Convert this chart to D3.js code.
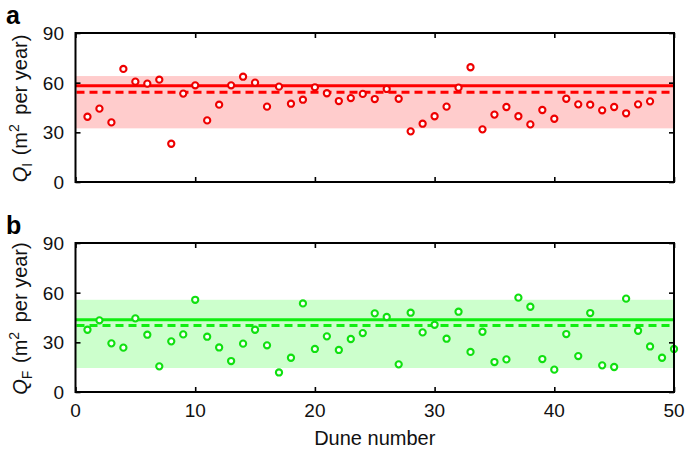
<!DOCTYPE html>
<html>
<head>
<meta charset="utf-8">
<script src="https://cdn.jsdelivr.net/npm/d3@7/dist/d3.min.js"></script>
<style>
  html, body { margin: 0; padding: 0; background: #fff; }
  svg { display: block; font-family: "Liberation Sans", Arial, Helvetica, sans-serif; }
</style>
</head>
<body>
<svg id="chart" width="685" height="450"></svg>
<script>
// ---- Data ----
const duneI = d3.range(1, 49);            // dunes 1..48 (panel a)
const valuesI = [39.4,44.3,36.0,68.3,60.6,59.4,61.8,23.1,53.4,58.4,
                 37.2,46.7,58.4,63.6,60.0,45.5,57.6,47.3,49.7,57.2,
                 53.6,48.9,50.7,53.2,50.1,56.2,50.3,30.6,35.2,39.7,
                 45.5,57.0,69.3,31.8,40.7,45.3,39.7,34.8,43.5,38.2,
                 50.3,46.9,46.7,43.3,45.3,41.5,46.9,48.7];
const meanI = 58.2, medianI = 54.2, bandI = [32.4, 64.0];

const duneF = d3.range(1, 51);            // dunes 1..50 (panel b)
const valuesF = [37.6,43.3,29.4,26.8,44.5,34.6,15.5,30.6,34.8,55.7,
                 33.4,26.9,18.7,29.2,37.6,28.2,11.8,20.7,53.5,26.0,
                 33.6,25.4,32.0,35.6,47.5,45.3,16.7,47.9,36.0,40.6,
                 32.2,48.5,24.2,36.4,18.1,19.7,57.0,51.5,19.9,13.5,
                 35.0,21.7,47.7,16.1,15.1,56.4,37.0,27.5,20.7,26.0];
const meanF = 43.7, medianF = 40.2, bandF = [14.5, 55.7];

const xTicks = [0, 10, 20, 30, 40, 50];
const yTicks = [0, 30, 60, 90];

// ---- Layout ----
const svg = d3.select("#chart");
const x = d3.scaleLinear().domain([0, 50]).range([75.5, 674]);

const panels = [
  { letter: "a", sub: "I", top: 33, bottom: 182, dune: duneI, vals: valuesI,
    mean: meanI, median: medianI, band: bandI,
    stroke: "#ee0000", fill: "#ffcccc", line: "#ff0000", showX: false },
  { letter: "b", sub: "F", top: 243, bottom: 392, dune: duneF, vals: valuesF,
    mean: meanF, median: medianF, band: bandF,
    stroke: "#10e010", fill: "#ccffcc", line: "#11ee11", showX: true }
];

panels.forEach(p => {
  const y = d3.scaleLinear().domain([0, 90]).range([p.bottom, p.top]);
  const g = svg.append("g");
  const x0 = x.range()[0], x1 = x.range()[1];

  // band
  g.append("rect")
    .attr("x", x0).attr("width", x1 - x0)
    .attr("y", y(p.band[1])).attr("height", y(p.band[0]) - y(p.band[1]))
    .attr("fill", p.fill);

  // mean line (solid)
  g.append("line")
    .attr("x1", x0).attr("x2", x1)
    .attr("y1", y(p.mean)).attr("y2", y(p.mean))
    .attr("stroke", p.line).attr("stroke-width", 3);

  // median line (dashed)
  g.append("line")
    .attr("x1", x0 + 1).attr("x2", x1)
    .attr("y1", y(p.median)).attr("y2", y(p.median))
    .attr("stroke", p.line).attr("stroke-width", 3)
    .attr("stroke-dasharray", "8,5");

  // points
  g.selectAll("circle.pt").data(p.dune.map((d, i) => [d, p.vals[i]]))
    .enter().append("circle")
    .attr("class", "pt")
    .attr("cx", d => x(d[0])).attr("cy", d => y(d[1]))
    .attr("r", 3.1)
    .attr("fill", "#fff")
    .attr("stroke", p.stroke).attr("stroke-width", 2.1);

  // axes (ticks inward)
  const tl = 5;
  const axL = g.append("g").attr("transform", `translate(${x0},0)`)
    .call(d3.axisRight(y).tickValues(yTicks).tickSize(tl).tickFormat(""));
  const axR = g.append("g").attr("transform", `translate(${x1},0)`)
    .call(d3.axisLeft(y).tickValues(yTicks).tickSize(tl).tickFormat(""));
  const axB = g.append("g").attr("transform", `translate(0,${p.bottom})`)
    .call(d3.axisTop(x).tickValues(xTicks).tickSize(tl).tickFormat(""));
  const axT = g.append("g").attr("transform", `translate(0,${p.top})`)
    .call(d3.axisBottom(x).tickValues(xTicks).tickSize(tl).tickFormat(""));
  [axL, axR, axB, axT].forEach(a => {
    a.select(".domain").remove();
    a.selectAll(".tick line").attr("stroke", "#000").attr("stroke-width", 1.6);
  });

  // frame
  g.append("rect")
    .attr("x", x0).attr("y", p.top)
    .attr("width", x1 - x0).attr("height", p.bottom - p.top)
    .attr("fill", "none").attr("stroke", "#000").attr("stroke-width", 2);

  // y tick labels
  g.selectAll("text.yt").data(yTicks).enter().append("text")
    .attr("class", "yt")
    .attr("x", 64).attr("y", d => y(d))
    .attr("dy", "0.36em")
    .attr("text-anchor", "end")
    .attr("font-size", 19).attr("fill", "#111")
    .text(d => d);

  // x tick labels
  if (p.showX) {
    g.selectAll("text.xt").data(xTicks).enter().append("text")
      .attr("class", "xt")
      .attr("x", d => x(d)).attr("y", p.bottom + 25)
      .attr("text-anchor", "middle")
      .attr("font-size", 19).attr("fill", "#111")
      .text(d => d);
    g.append("text")
      .attr("x", (x0 + x1) / 2).attr("y", p.bottom + 53)
      .attr("text-anchor", "middle")
      .attr("font-size", 20).attr("fill", "#111")
      .text("Dune number");
  }

  // y axis label
  const yl = g.append("text")
    .attr("transform", `translate(27,${(p.top + p.bottom) / 2 + 1}) rotate(-90)`)
    .attr("text-anchor", "middle")
    .attr("font-size", 20).attr("fill", "#111");
  yl.append("tspan").attr("font-style", "italic").text("Q");
  yl.append("tspan").attr("font-size", 14).attr("dy", 5).text(p.sub);
  yl.append("tspan").attr("dy", -5).attr("dx", 2).text(" (m");
  yl.append("tspan").attr("font-size", 14).attr("dy", -8).text("2");
  yl.append("tspan").attr("dy", 8).attr("dx", 4).text(" per year)");

  // panel letter
  g.append("text")
    .attr("x", 6).attr("y", p.top - 9)
    .attr("font-size", 25).attr("font-weight", "bold").attr("fill", "#000")
    .text(p.letter);
});
</script>
</body>
</html>
